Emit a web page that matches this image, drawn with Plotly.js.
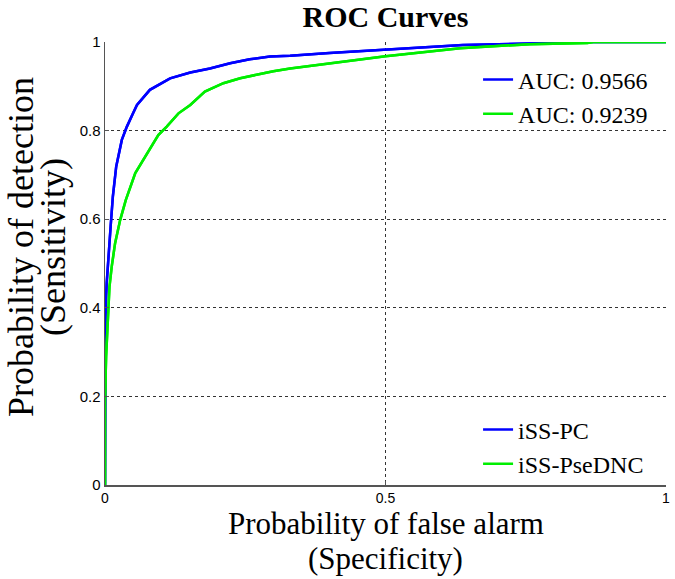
<!DOCTYPE html>
<html>
<head>
<meta charset="utf-8">
<script src="https://cdn.plot.ly/plotly-3.0.1.min.js"></script>
<style>html,body{margin:0;padding:0;background:#fff;}#chart{width:675px;height:579px;}</style>
</head>
<body>
<div id="chart"></div>
<script>
// iSS-PC ROC curve (false alarm rate, detection rate)
const pcFpr = [0, 0, 0.001, 0.003, 0.006, 0.010, 0.014, 0.020, 0.030, 0.039, 0.050, 0.057, 0.080, 0.116, 0.152, 0.187, 0.223, 0.258, 0.294, 0.33, 0.40, 0.50, 0.638, 0.80, 0.81, 1];
const pcTpr = [0, 0.30, 0.395, 0.455, 0.523, 0.583, 0.651, 0.719, 0.779, 0.809, 0.839, 0.858, 0.892, 0.918, 0.931, 0.940, 0.952, 0.961, 0.967, 0.969, 0.975, 0.982, 0.993, 0.998, 1.0, 1.0];
// iSS-PseDNC ROC curve
const dncFpr = [0, 0, 0.002, 0.004, 0.008, 0.012, 0.018, 0.027, 0.037, 0.054, 0.068, 0.083, 0.095, 0.11, 0.131, 0.152, 0.178, 0.211, 0.241, 0.270, 0.30, 0.33, 0.40, 0.50, 0.633, 0.758, 0.86, 0.87, 1];
const dncTpr = [0, 0.19, 0.29, 0.35, 0.448, 0.493, 0.546, 0.598, 0.643, 0.704, 0.734, 0.764, 0.79, 0.809, 0.839, 0.858, 0.888, 0.907, 0.918, 0.926, 0.934, 0.94, 0.952, 0.968, 0.986, 0.995, 0.998, 1.0, 1.0];

const seriesNames = ["iSS-PC", "iSS-PseDNC"];
const aucLabels = ["AUC: 0.9566", "AUC: 0.9239"];
const colors = ["#0000FF", "#00EE00"];

const xTicks = [0, 0.5, 1];
const xTickText = ["0", "0.5", "1"];
const yTicks = [0, 0.2, 0.4, 0.6, 0.8, 1];
const yTickText = ["0", "0.2", "0.4", "0.6", "0.8", "1"];

const xTitleLines = ["Probability of false alarm", "(Specificity)"];
const yTitleLines = ["Probability of detection", "(Sensitivity)"];

const serif = "Liberation Serif, Times New Roman, serif";
const sans = "Liberation Sans, Arial, sans-serif";

const traces = [
  {x: pcFpr, y: pcTpr, name: aucLabels[0], legend: "legend", legendgroup: "a1", mode: "lines", line: {color: colors[0], width: 2.5}},
  {x: pcFpr, y: pcTpr, name: seriesNames[0], legend: "legend2", legendgroup: "b1", mode: "lines", line: {color: colors[0], width: 2.5}},
  {x: dncFpr, y: dncTpr, name: aucLabels[1], legend: "legend", legendgroup: "a2", mode: "lines", line: {color: colors[1], width: 2.5}},
  {x: dncFpr, y: dncTpr, name: seriesNames[1], legend: "legend2", legendgroup: "b2", mode: "lines", line: {color: colors[1], width: 2.5}}
];

function px2x(p) { return (p - 105) / 561; }
function px2y(p) { return (485 - p) / 443; }

const layout = {
  width: 675, height: 579,
  margin: {l: 105, r: 9, t: 42, b: 94},
  paper_bgcolor: "#fff", plot_bgcolor: "#fff",
  title: {text: "<b>ROC Curves</b>", font: {family: serif, size: 30, color: "#000"}, x: 0.571, xanchor: "center", y: 0.971, yanchor: "middle"},
  showlegend: true,
  xaxis: {
    range: [0, 1], tickvals: xTicks, ticktext: xTickText,
    showline: true, linecolor: "#555", linewidth: 1.5,
    ticks: "inside", ticklen: 4, tickcolor: "#555",
    showgrid: true, gridcolor: "#333", griddash: "dot", gridwidth: 1,
    zeroline: false, tickfont: {family: sans, size: 14, color: "#000"},
    fixedrange: true
  },
  yaxis: {
    range: [0, 1], tickvals: yTicks, ticktext: yTickText,
    showline: true, linecolor: "#555", linewidth: 1.5,
    ticks: "inside", ticklen: 4, tickcolor: "#555",
    showgrid: true, gridcolor: "#333", griddash: "dot", gridwidth: 1,
    zeroline: false, tickfont: {family: sans, size: 15, color: "#000"},
    fixedrange: true
  },
  annotations: [
    {text: xTitleLines[0], xref: "paper", yref: "paper", x: 0.5, xanchor: "center", y: px2y(523), yanchor: "middle", showarrow: false, font: {family: serif, size: 31, color: "#000"}},
    {text: xTitleLines[1], xref: "paper", yref: "paper", x: 0.5, xanchor: "center", y: px2y(558), yanchor: "middle", showarrow: false, font: {family: serif, size: 31, color: "#000"}},
    {text: yTitleLines[0], xref: "paper", yref: "paper", x: px2x(21), xanchor: "center", y: px2y(247), yanchor: "middle", textangle: -90, showarrow: false, font: {family: serif, size: 36, color: "#000"}},
    {text: yTitleLines[1], xref: "paper", yref: "paper", x: px2x(53), xanchor: "center", y: px2y(247), yanchor: "middle", textangle: -90, showarrow: false, font: {family: serif, size: 36, color: "#000"}}
  ],
  legend: {
    x: 0.665, xanchor: "left", y: 0.965, yanchor: "top",
    bgcolor: "rgba(255,255,255,0)", borderwidth: 0,
    font: {family: serif, size: 24, color: "#000"},
    tracegroupgap: 9, traceorder: "normal"
  },
  legend2: {
    x: 0.665, xanchor: "left", y: -0.003, yanchor: "bottom",
    bgcolor: "rgba(255,255,255,0)", borderwidth: 0,
    font: {family: serif, size: 24, color: "#000"},
    tracegroupgap: 0, traceorder: "normal"
  }
};

Plotly.newPlot("chart", traces, layout, {displayModeBar: false, staticPlot: true});
</script>
</body>
</html>
